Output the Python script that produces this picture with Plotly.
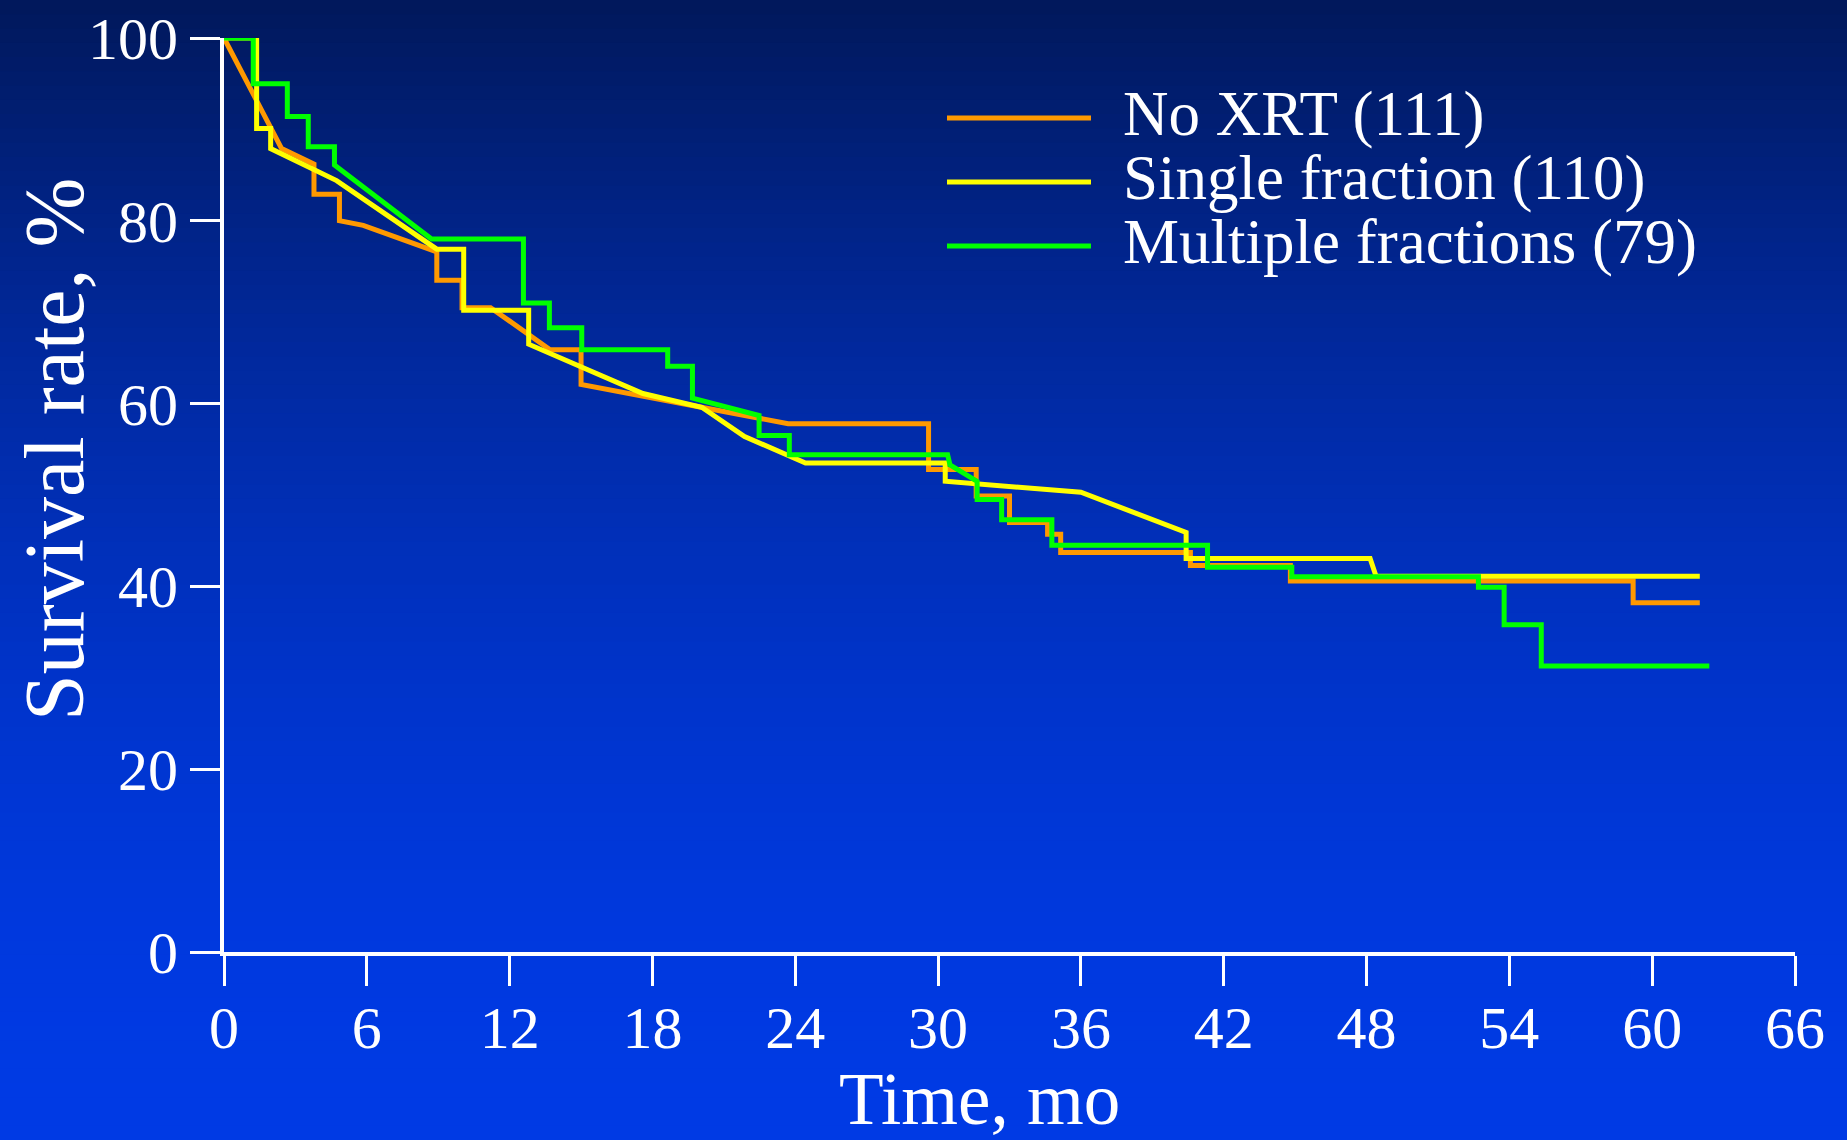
import plotly.graph_objects as go

# ---- data (months, survival %) ----
no_xrt_t = [0, 2.42, 3.78, 3.78, 4.85, 4.85, 5.85, 8.94, 8.94, 10.0, 10.0, 11.2, 13.7, 15.0, 15.0,
            23.7, 29.6, 29.6, 31.6, 31.6, 33.0, 33.0, 34.6, 34.6, 35.15, 35.15, 40.6, 40.6,
            44.8, 44.8, 59.2, 59.2, 62.0]
no_xrt_s = [100, 87.9, 86.2, 82.9, 82.9, 80.0, 79.5, 76.6, 73.5, 73.5, 70.5, 70.5, 65.9, 65.9, 62.1,
            57.8, 57.8, 52.8, 52.8, 49.9, 49.9, 47.0, 47.0, 45.7, 45.7, 43.7, 43.7, 42.3,
            42.3, 40.6, 40.6, 38.2, 38.2]

single_t = [0, 1.37, 1.37, 1.96, 1.96, 4.73, 8.94, 10.07, 10.07, 12.8, 12.8, 13.7, 17.6, 20.07,
            21.87, 24.43, 30.3, 30.3, 36.0, 40.42, 40.42, 48.15, 48.4, 62.0]
single_s = [100, 100, 90.1, 90.1, 87.9, 84.4, 76.9, 76.9, 70.2, 70.2, 66.5, 65.5, 61.1, 59.6,
            56.4, 53.5, 53.5, 51.5, 50.3, 45.9, 43.05, 43.05, 41.1, 41.1]

multi_t = [0, 1.23, 1.23, 2.66, 2.66, 3.54, 3.54, 4.64, 4.64, 8.72, 12.58, 12.58, 13.67, 13.67,
           15.03, 15.03, 18.64, 18.64, 19.68, 19.68, 22.48, 22.48, 23.75, 23.75, 30.4, 30.5,
           31.64, 31.64, 32.67, 32.67, 34.78, 34.78, 41.32, 41.32, 44.86, 44.86, 52.7, 52.7,
           53.78, 53.78, 55.34, 55.34, 62.4]
multi_s = [100, 100, 95.0, 95.0, 91.4, 91.4, 88.1, 88.1, 86.1, 78.0, 78.0, 71.0, 71.0, 68.3,
           68.3, 65.9, 65.9, 64.1, 64.1, 60.6, 58.7, 56.5, 56.5, 54.4, 54.4, 53.3,
           51.5, 49.5, 49.5, 47.3, 47.3, 44.5, 44.5, 42.1, 42.1, 41.05, 41.05, 39.9,
           39.9, 35.8, 35.8, 31.3, 31.3]

series_names = ["No XRT (111)", "Single fraction (110)", "Multiple fractions (79)"]
series_colors = ["#FF9900", "#FFFF00", "#00FF00"]

x_ticks = list(range(0, 67, 6))
y_ticks = list(range(0, 101, 20))

# ---- layout geometry ----
W, H = 1847, 1140
L, R, T, B = 224, 1795, 38, 952
FONT = "Liberation Serif, Times New Roman, serif"


def px(xp):
    return (xp - L) / (R - L)


def py(yp):
    return (B - yp) / (B - T)


fig = go.Figure()
for t, s, name, col in zip([no_xrt_t, single_t, multi_t], [no_xrt_s, single_s, multi_s],
                           series_names, series_colors):
    fig.add_trace(go.Scatter(x=t, y=s, mode="lines", name=name,
                             line=dict(color=col, width=5), cliponaxis=False,
                             showlegend=False))

shapes = []
# background gradient
N = 80


def grad(f):
    g = 1 - (1 - f) ** 1.8
    r = round(1 - 1 * f)
    gg = round(24 + 34 * g)
    b = round(90 + 138 * g)
    return f"rgb({r},{gg},{b})"


for i in range(N):
    y0p = H * i / N - (1 if i == 0 else 0)
    y1p = H * (i + 1) / N + 1
    shapes.append(dict(type="rect", xref="paper", yref="paper", layer="below",
                       x0=px(-2), x1=px(W + 2), y0=py(y1p), y1=py(y0p),
                       line=dict(width=0), fillcolor=grad((i + 0.5) / N)))

# manual legend
leg_y = [118, 182, 246]
annotations = []
for name, col, ly in zip(series_names, series_colors, leg_y):
    shapes.append(dict(type="line", xref="paper", yref="paper", layer="above",
                       x0=px(947), x1=px(1091), y0=py(ly), y1=py(ly),
                       line=dict(color=col, width=5)))
    annotations.append(dict(xref="paper", yref="paper", x=px(1121), y=py(ly - 4),
                            xanchor="left", yanchor="middle", showarrow=False,
                            text=name, font=dict(family=FONT, size=63, color="white")))

annotations.append(dict(xref="paper", yref="paper", x=px(979), y=py(1099),
                        xanchor="center", yanchor="middle", showarrow=False,
                        text="Time, mo", font=dict(family=FONT, size=73, color="white")))
annotations.append(dict(xref="paper", yref="paper", x=px(54), y=py(449),
                        xanchor="center", yanchor="middle", showarrow=False, textangle=-90,
                        text="Survival rate, %", font=dict(family=FONT, size=84, color="white")))

fig.update_layout(
    width=W, height=H,
    margin=dict(l=L, r=W - R, t=T, b=H - B, pad=0, autoexpand=False),
    paper_bgcolor="#002a9e", plot_bgcolor="rgba(0,0,0,0)",
    shapes=shapes, annotations=annotations,
    showlegend=False,
    font=dict(family=FONT, color="white", size=60),
)
fig.update_xaxes(range=[0, 66], tickvals=x_ticks, ticktext=[str(v) for v in x_ticks],
                 showgrid=False, zeroline=False, showline=True, linecolor="white", linewidth=4,
                 ticks="outside", ticklen=30, tickwidth=3, tickcolor="white", automargin=False,
                 ticklabelstandoff=-10,
                 tickfont=dict(family=FONT, size=60, color="white"))
fig.update_yaxes(range=[0, 100], tickvals=y_ticks, ticktext=[str(v) for v in y_ticks],
                 showgrid=False, zeroline=False, showline=True, linecolor="white", linewidth=4,
                 ticks="outside", ticklen=30, tickwidth=3, tickcolor="white", automargin=False,
                 tickfont=dict(family=FONT, size=60, color="white"))

fig.write_html("out.html", config={"displayModeBar": False},
               post_script="document.body.style.margin='0';document.body.style.overflow='hidden';")
